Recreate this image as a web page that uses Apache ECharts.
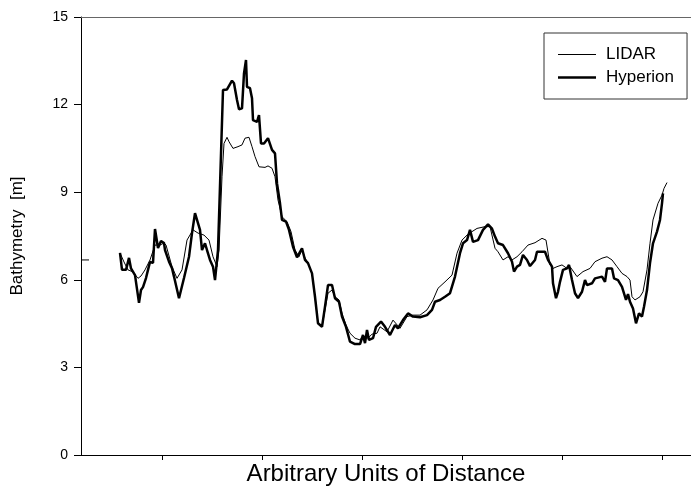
<!DOCTYPE html>
<html>
<head>
<meta charset="utf-8">
<script src="https://cdn.jsdelivr.net/npm/echarts@6/dist/echarts.min.js"></script>
<style>html,body{margin:0;padding:0;background:#fff}#c{width:691px;height:489px}</style>
</head>
<body>
<div id="c"></div>
<script>
// Distance (arbitrary units) and bathymetry (m)
const lidarX = [19, 27, 40, 58, 62, 66, 71, 76, 79, 83, 88, 93, 98, 102, 104, 110, 115, 120, 125, 131, 136, 142, 147, 151, 155, 157, 160, 162, 165, 167, 171, 176, 180, 183, 187, 190, 193, 197, 203, 206, 210, 213, 216, 220, 225, 229, 233, 237, 240, 243, 246, 250, 253, 256, 260, 263, 266, 270, 273, 277, 280, 284, 288, 293, 298, 301, 306, 310, 315, 318, 325, 331, 338, 345, 351, 358, 365, 371, 376, 383, 390, 395, 400, 405, 410, 415, 423, 428, 430, 433, 436, 441, 446, 450, 455, 460, 466, 473, 480, 484, 488, 491, 495, 500, 505, 508, 515, 521, 528, 533, 540, 545, 550, 555, 560, 565, 568, 570, 573, 578, 581, 585, 588, 591, 596, 600, 602, 605];
const lidarY = [6.68, 6.68, '-', 6.92, 6.61, 6.34, 6.27, 6.05, 6.13, 6.34, 6.68, 7.19, 7.19, 7.26, 7.19, 6.45, 6.05, 6.34, 7.36, 7.71, 7.60, 7.53, 7.36, 6.79, 6.45, 7.02, 9.53, 10.67, 10.88, 10.73, 10.50, 10.56, 10.62, 10.85, 10.88, 10.56, 10.22, 9.87, 9.85, 9.90, 9.82, 9.53, 8.73, 8.16, 7.99, 7.65, 7.02, 6.79, 7.02, 6.75, 6.57, 6.22, 5.42, 4.51, 4.39, 4.97, 5.54, 5.65, 5.42, 5.31, 4.86, 4.45, 4.17, 4.00, 3.94, 4.08, 4.00, 4.14, 4.17, 4.39, 4.22, 4.62, 4.34, 4.74, 4.79, 4.79, 4.97, 5.31, 5.71, 5.93, 6.16, 6.91, 7.36, 7.53, 7.65, 7.76, 7.82, 7.82, 7.77, 7.08, 6.96, 6.68, 6.79, 6.68, 6.79, 6.96, 7.19, 7.27, 7.42, 7.36, 6.51, 6.39, 6.45, 6.51, 6.39, 6.45, 6.11, 6.28, 6.39, 6.62, 6.74, 6.79, 6.68, 6.45, 6.22, 6.11, 5.99, 5.42, 5.31, 5.42, 5.59, 6.34, 7.25, 8.05, 8.62, 8.90, 9.13, 9.33];

const hypX = [58, 60, 64, 67, 69, 73, 77, 79, 81, 84, 86, 88, 91, 93, 96, 99, 102, 103, 107, 110, 112, 117, 122, 127, 130, 133, 135, 138, 140, 143, 145, 148, 151, 153, 156, 161, 165, 170, 172, 175, 177, 180, 182, 184, 185, 188, 190, 191, 195, 197, 199, 202, 206, 210, 213, 215, 218, 220, 224, 227, 231, 235, 236, 240, 243, 246, 250, 253, 256, 260, 263, 266, 270, 273, 277, 280, 284, 288, 293, 298, 301, 303, 305, 307, 311, 314, 319, 323, 328, 333, 336, 341, 346, 351, 358, 365, 370, 373, 378, 383, 388, 393, 398, 401, 405, 408, 411, 416, 421, 426, 430, 433, 436, 441, 446, 450, 452, 455, 458, 461, 465, 468, 473, 475, 483, 486, 490, 491, 494, 496, 498, 501, 505, 507, 510, 513, 516, 520, 523, 525, 530, 533, 540, 543, 545, 550, 552, 556, 560, 562, 564, 566, 568, 571, 574, 577, 580, 582, 585, 588, 591, 595, 598, 600, 601];
const hypY = [6.92, 6.34, 6.34, 6.75, 6.39, 6.16, 5.21, 5.65, 5.75, 6.06, 6.34, 6.61, 6.58, 7.74, 7.09, 7.33, 7.26, 7.02, 6.62, 6.40, 6.11, 5.37, 6.06, 6.79, 7.60, 8.28, 8.22, 7.71, 7.02, 7.25, 7.02, 6.68, 6.45, 5.99, 7.02, 12.50, 12.52, 12.82, 12.73, 12.16, 11.84, 11.87, 13.07, 13.53, 12.61, 12.56, 12.22, 11.47, 11.41, 11.64, 10.67, 10.67, 10.85, 10.45, 10.33, 9.30, 8.62, 8.05, 7.99, 7.71, 7.13, 6.77, 6.77, 7.08, 6.68, 6.57, 6.22, 5.42, 4.51, 4.39, 5.08, 5.82, 5.82, 5.37, 5.25, 4.74, 4.39, 3.88, 3.80, 3.80, 4.11, 3.83, 4.28, 3.94, 4.00, 4.39, 4.57, 4.39, 4.11, 4.45, 4.34, 4.62, 4.85, 4.74, 4.72, 4.79, 4.97, 5.25, 5.31, 5.42, 5.54, 6.11, 6.91, 7.25, 7.36, 7.71, 7.30, 7.36, 7.71, 7.90, 7.75, 7.48, 7.25, 7.19, 6.91, 6.62, 6.28, 6.45, 6.51, 6.85, 6.68, 6.47, 6.68, 6.96, 6.96, 6.68, 6.45, 5.88, 5.37, 5.59, 5.93, 6.34, 6.39, 6.51, 5.99, 5.54, 5.37, 5.59, 5.99, 5.82, 5.88, 6.05, 6.11, 5.93, 6.39, 6.39, 6.05, 5.99, 5.76, 5.71, 5.31, 5.51, 5.25, 5.02, 4.51, 4.85, 4.74, 5.08, 5.65, 6.57, 7.25, 7.65, 8.05, 8.62, 8.96];

const xTicks = [100, 200, 300, 400, 500, 600];
const yTicks = [0, 3, 6, 9, 12, 15];

const lidarData = lidarX.map((x, i) => [x, lidarY[i]]);
const hypData = hypX.map((x, i) => [x, hypY[i]]);

const FONT = 'Liberation Sans, Arial, sans-serif';
const chart = echarts.init(document.getElementById('c'), null, {renderer: 'canvas'});
chart.setOption({
  animation: false,
  backgroundColor: '#fff',
  grid: {left: 81, right: 0, top: 17, bottom: 34, outerBoundsMode: 'none', containLabel: false},
  legend: {
    orient: 'vertical', left: 544, top: 33,
    padding: [13, 13, 13, 14],
    itemWidth: 38, itemHeight: 14, itemGap: 6,
    symbolKeepAspect: true,
    borderColor: '#333', borderWidth: 1,
    textStyle: {fontSize: 17, fontFamily: FONT, color: '#000', padding: [0, 0, 0, 5]},
    data: [
      {name: 'LIDAR', icon: 'path://M0,0 L38,0 L38,1 L0,1 Z'},
      {name: 'Hyperion', icon: 'path://M0,0 L38,0 L38,2.6 L0,2.6 Z'}
    ]
  },
  xAxis: [{
    type: 'value', min: 19, max: 629,
    name: 'Arbitrary Units of Distance', nameLocation: 'middle', nameGap: 7,
    nameTextStyle: {fontSize: 24, fontFamily: FONT, color: '#000', verticalAlign: 'top'},
    axisLine: {show: true, lineStyle: {color: '#000', width: 1}},
    axisTick: {show: true, length: 5, customValues: xTicks, lineStyle: {color: '#000'}},
    axisLabel: {show: false},
    splitLine: {show: false}
  }, {
    type: 'value', position: 'top', min: 19, max: 629,
    axisLine: {show: true, onZero: false, lineStyle: {color: '#666', width: 1}},
    axisTick: {show: false}, axisLabel: {show: false}, splitLine: {show: false}
  }],
  yAxis: {
    type: 'value', min: 0, max: 15, interval: 3,
    name: 'Bathymetry  [m]', nameLocation: 'middle', nameGap: 55,
    nameTextStyle: {fontSize: 17, fontFamily: FONT, color: '#000'},
    axisLine: {show: true, lineStyle: {color: '#000', width: 1}},
    axisTick: {show: true, length: 7, inside: false, lineStyle: {color: '#000'}},
    axisLabel: {fontSize: 14, fontFamily: FONT, color: '#000', margin: 13,
      customValues: yTicks},
    splitLine: {show: false}
  },
  series: [{
    name: 'LIDAR', type: 'line', data: lidarData, symbol: 'none',
    connectNulls: false,
    lineStyle: {color: '#000', width: 1}, itemStyle: {color: '#000'}
  }, {
    name: 'Hyperion', type: 'line', data: hypData, symbol: 'none',
    lineStyle: {color: '#000', width: 2.5}, itemStyle: {color: '#000'}
  }]
});
</script>
</body>
</html>
